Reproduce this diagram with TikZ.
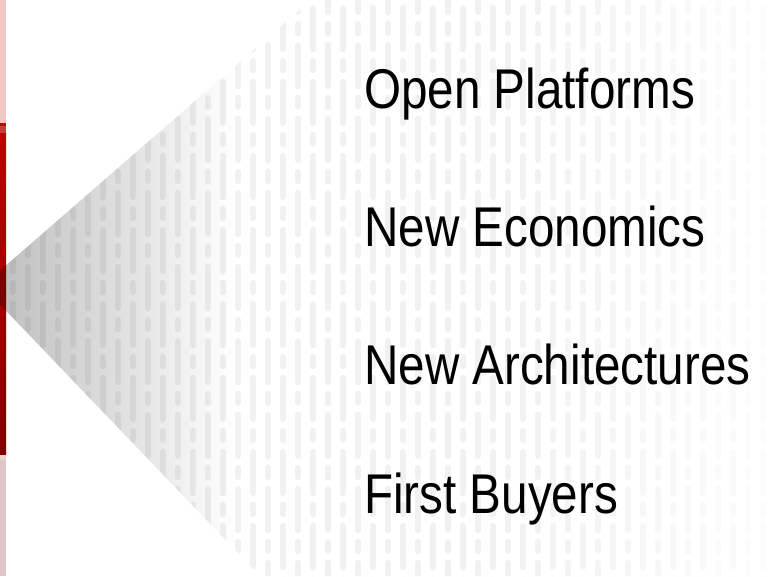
\documentclass[tikz,border=0pt]{standalone}
\usepackage{fontspec}
\setmainfont{Liberation Sans}
\usetikzlibrary{fadings}
\definecolor{pinktop}{HTML}{F3C6C6}
\definecolor{redline}{HTML}{C00000}
\definecolor{redlight}{HTML}{CD3A3A}
\definecolor{redtop}{HTML}{C20000}
\definecolor{redbot}{HTML}{7E0000}
\definecolor{redband}{HTML}{E9D3D3}
\definecolor{pinkbot}{HTML}{E0C6C6}
\tikzfading[name=greyfade, left color=transparent!0, right color=transparent!100]
\begin{document}
\begin{tikzpicture}[x=1pt,y=-1pt,
  lbl/.style={anchor=base west, inner sep=0pt, font=\fontsize{56}{60}\selectfont, text=black},
  barline/.style={line width=6.5pt, line cap=round, draw=black, dash pattern=on 41pt off 12pt on 9pt off 12pt}]
\useasboundingbox (0,0) rectangle (768,576);
\fill[white] (0,0) rectangle (768,576);
% red side bar
\fill[pinktop] (0,0) rectangle (6,123);
\fill[redline] (0,123) rectangle (6,126);
\fill[redlight] (0,126) rectangle (6,133);
\shade[top color=redtop, bottom color=redbot] (0,133) rectangle (6,455);
\fill[redband] (0,455) rectangle (6,460);
\fill[pinkbot] (0,460) rectangle (6,576);
% grey arrow shape with dash pattern
\begin{scope}
\clip (-17.7,286) -- (311,0) -- (768,0) -- (768,576) -- (260,576) -- cycle;
\fill[black, fill opacity=0.27, path fading=greyfade, fit fading=true] (-18,0) rectangle (235,576);
\foreach \k in {0,...,52}{
  \pgfmathsetmacro\xx{-2+15*\k}
  \pgfmathsetmacro\op{\xx<500 ? 0.055 : 0.055-0.042*(\xx-500)/268}
  \pgfmathsetmacro\ys{mod(\k,2)==0 ? -29 : -66}
  \draw[barline, draw opacity=\op] (\xx,\ys) -- (\xx,620);
}
\end{scope}
% labels
\node[lbl] (t1) at (364,108) {\scalebox{0.85}[1]{Open Platforms}};
\node[lbl] (t2) at (364,246) {\scalebox{0.85}[1]{New Economics}};
\node[lbl] (t3) at (364,384) {\scalebox{0.85}[1]{New Architectures}};
\node[lbl] (t4) at (364,513) {\scalebox{0.85}[1]{First Buyers}};
\end{tikzpicture}
\end{document}
